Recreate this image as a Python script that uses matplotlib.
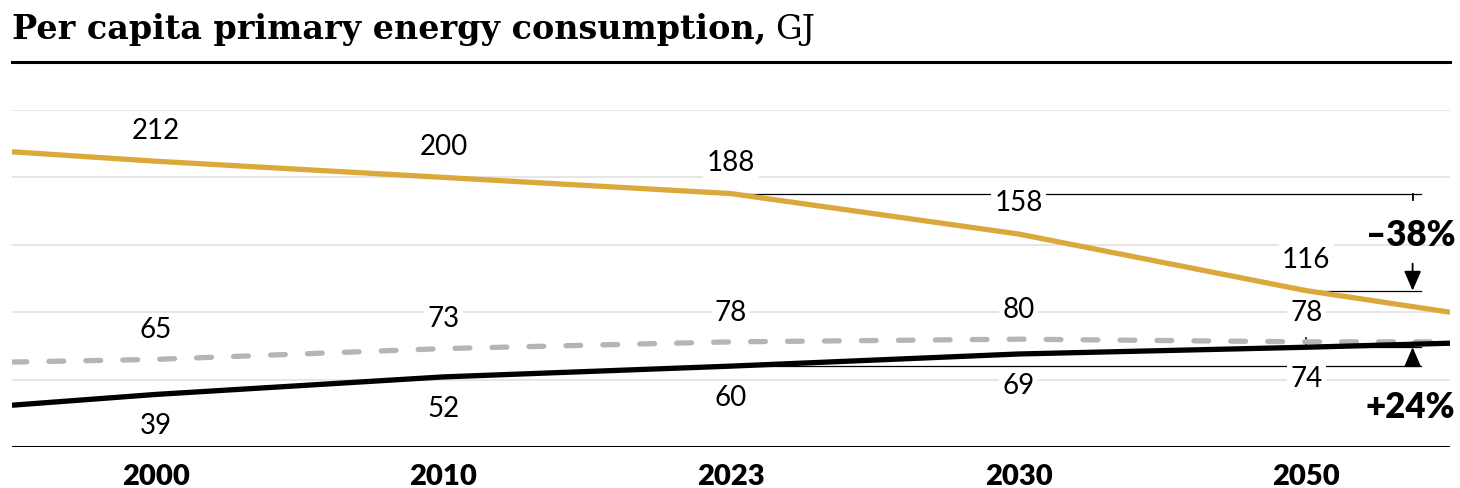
import numpy as np
import matplotlib.pyplot as plt
from matplotlib.lines import Line2D

# ---- data ----
years = ["2000", "2010", "2023", "2030", "2050"]
gold = [212, 200, 188, 158, 116]
gray = [65, 73, 78, 80, 78]
black = [39, 52, 60, 69, 74]
# values where the lines meet the left / right edge of the plot
gold_edges = [219, 100]
gray_edges = [63, 78]
black_edges = [31, 77]
change_labels = ["\u201338%", "+24%"]

GOLD = "#DAA83B"
GRAY = "#B5B5B5"
GRID = "#E4E4E4"
NUM_FONT = ["Lato", "DejaVu Sans"]

W, H = 1460, 488
fig = plt.figure(figsize=(W / 100, H / 100), dpi=100)
ax = fig.add_axes([12 / W, 41 / H, 1438 / W, 337 / H])

x = np.arange(len(years))
xe = np.concatenate([[-0.5], x, [len(years) - 0.5]])


def with_edges(vals, edges):
    return [edges[0]] + list(vals) + [edges[1]]


# gridlines
for g in [50, 100, 150, 200, 250]:
    ax.axhline(g, color=GRID, lw=1.3, zorder=0)
ax.axhline(0, color="black", lw=2.2, zorder=4)

# lines
ax.plot(xe, with_edges(gold, gold_edges), color=GOLD, lw=3.8, zorder=3,
        solid_capstyle="butt")
ax.plot(xe, with_edges(gray, gray_edges), color=GRAY, lw=3.8, zorder=3,
        dashes=(2.8, 4.2), dash_capstyle="round")
ax.plot(xe, with_edges(black, black_edges), color="black", lw=3.8, zorder=3,
        solid_capstyle="butt")

# value labels
lab = dict(fontsize=20, family=NUM_FONT, ha="center", va="center",
           textcoords="offset points", zorder=2,
           bbox=dict(boxstyle="square,pad=0.12", fc="white", ec="none"))
for i in x:
    ax.annotate(str(gold[i]), (i, gold[i]), xytext=(0, 22), **lab)
    ax.annotate(str(gray[i]), (i, gray[i]), xytext=(0, 21), **lab)
    ax.annotate(str(black[i]), (i, black[i]), xytext=(0, -23), **lab)

# change annotations
xr = 4.40
xa = 4.37
ln = dict(color="black", lw=0.9, zorder=1, clip_on=False)
arrow = dict(arrowstyle="-|>,head_length=0.6,head_width=0.26", color="black",
             lw=1.3, mutation_scale=20, shrinkA=0, shrinkB=0)

ax.plot([2, xr], [gold[2], gold[2]], **ln)
ax.plot([4, xr], [gold[4], gold[4]], **ln)
ax.plot([xa, xa], [gold[2], gold[2] - 5], color="black", lw=1.3, zorder=1)
ax.annotate("", xy=(xa, gold[4]), xytext=(xa, gold[4] + 20),
            arrowprops=arrow, zorder=5)

ax.plot([2, xr], [black[2], black[2]], **ln)
ax.plot([4, xr], [black[4], black[4]], **ln)
ax.plot([4, 4], [black[4], black[4] + 7], color="black", lw=1.2, zorder=1)
ax.annotate("", xy=(xa, black[4]), xytext=(xa, black[2]),
            arrowprops=arrow, zorder=5)

ax.text(4.518, 157, change_labels[0], fontsize=25, fontweight="heavy",
        family=NUM_FONT, ha="right", va="center")
ax.text(4.518, 29, change_labels[1], fontsize=25, fontweight="heavy",
        family=NUM_FONT, ha="right", va="center")

# axes
ax.set_xlim(-0.5, len(years) - 0.5)
ax.set_ylim(0, 250)
ax.set_xticks(x)
ax.set_xticklabels(years, fontsize=21, fontweight="heavy", family=NUM_FONT)
ax.tick_params(axis="x", length=0, pad=12)
ax.set_yticks([])
for s in ax.spines.values():
    s.set_visible(False)

# title
t = fig.text(12 / W, 1 - 39 / H, "Per capita primary energy consumption,",
             fontsize=24, fontweight="bold", family="DejaVu Serif",
             ha="left", va="baseline")
fig.canvas.draw()
bb = t.get_window_extent()
fig.text((bb.x1 + 9) / W, 1 - 39 / H, "GJ", fontsize=24,
         family="DejaVu Serif", ha="left", va="baseline")
fig.add_artist(Line2D([12 / W, 1450 / W], [1 - 62 / H] * 2, color="black",
                      lw=2.2))

fig.savefig("out.png", dpi=100, facecolor="white")
